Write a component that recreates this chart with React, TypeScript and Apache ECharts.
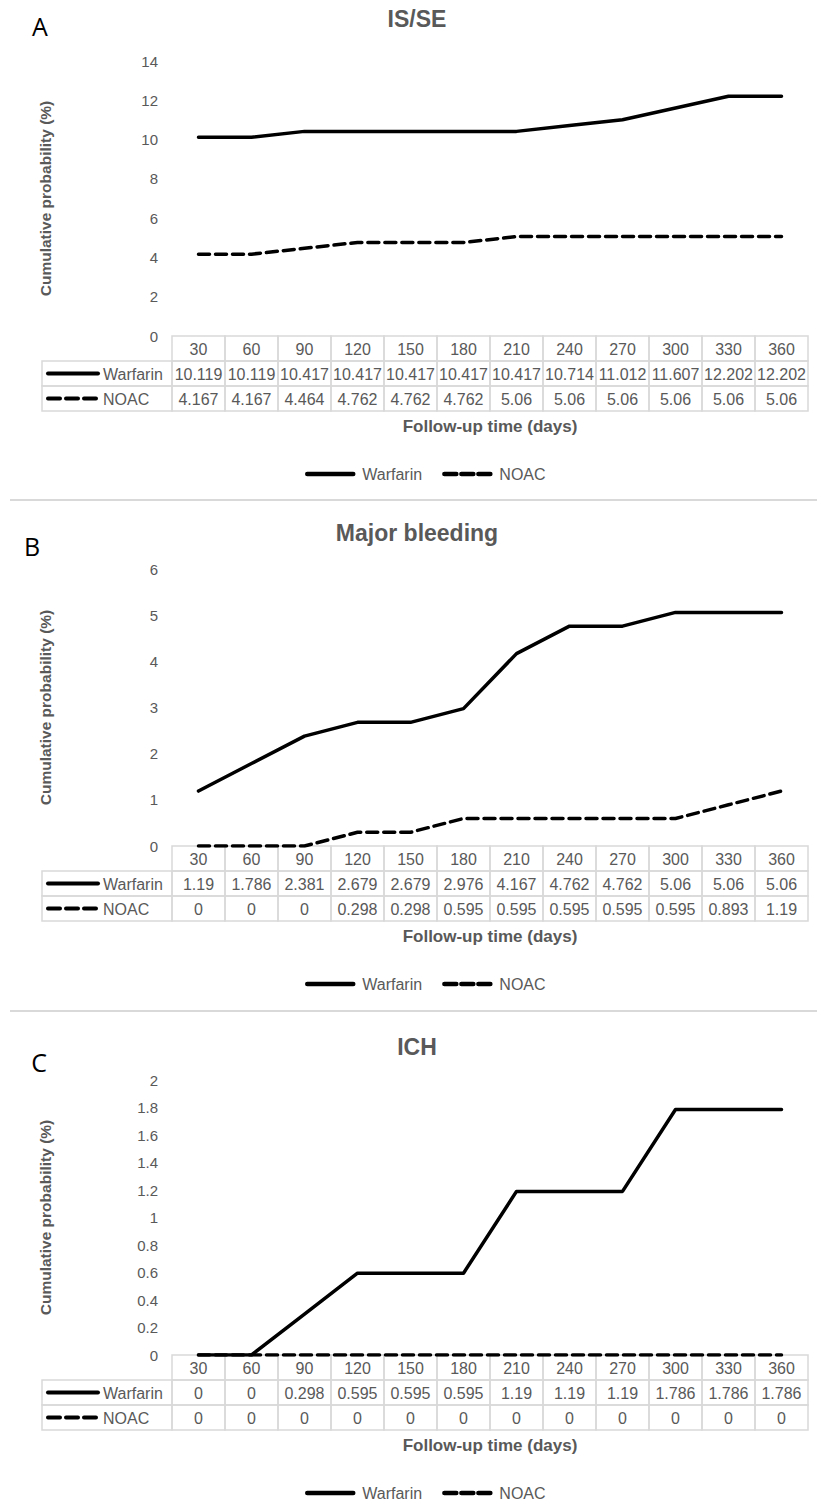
import React, { useEffect, useRef } from "react";
import * as echarts from "echarts";

// ---------- data ----------
const categories = ["30", "60", "90", "120", "150", "180", "210", "240", "270", "300", "330", "360"];
const isseWarfarin = [10.119, 10.119, 10.417, 10.417, 10.417, 10.417, 10.417, 10.714, 11.012, 11.607, 12.202, 12.202];
const isseNoac = [4.167, 4.167, 4.464, 4.762, 4.762, 4.762, 5.06, 5.06, 5.06, 5.06, 5.06, 5.06];
const bleedWarfarin = [1.19, 1.786, 2.381, 2.679, 2.679, 2.976, 4.167, 4.762, 4.762, 5.06, 5.06, 5.06];
const bleedNoac = [0, 0, 0, 0.298, 0.298, 0.595, 0.595, 0.595, 0.595, 0.595, 0.893, 1.19];
const ichWarfarin = [0, 0, 0.298, 0.595, 0.595, 0.595, 1.19, 1.19, 1.19, 1.786, 1.786, 1.786];
const ichNoac = [0, 0, 0, 0, 0, 0, 0, 0, 0, 0, 0, 0];
const panelTitles = ["IS/SE", "Major bleeding", "ICH"];
const panelLetters = ["A", "B", "C"];
const yMaxes = [14, 6, 2];
const yIntervals = [2, 1, 0.2];
const seriesNames = ["Warfarin", "NOAC"];
const yAxisTitle = "Cumulative probability (%)";
const xAxisTitle = "Follow-up time (days)";

const panelData = [
  [isseWarfarin, isseNoac],
  [bleedWarfarin, bleedNoac],
  [ichWarfarin, ichNoac],
];

// ---------- layout ----------
const W = 817;
const H = 1504;
const FONT = '"Liberation Sans", Arial, sans-serif';
const GRAY = "#595959";
const BORDER = "#d9d9d9";
const gridLeft = 172;
const gridRight = 9;
const gridTops = [61, 569, 1080];
const gridHeights = [275, 277, 275];
const rowH = 25;
const tableLeft = 42;
const lineW = 3.5;
const dash = [11, 6];
const titleY = [19, 533, 1047];
const letterPos = [
  [40, 26],
  [32, 546],
  [39, 1062],
];
const separatorsY = [500, 1011];

function makeRenderItem(panel: number) {
  return (params: any, api: any) => {
    const idx = api.value(0);
    const pt = api.coord([idx, 0]);
    const w = api.size([1, 0])[0];
    const x0 = pt[0] - w / 2;
    const y0 = pt[1];
    const texts = [categories[idx], String(api.value(2)), String(api.value(3))];
    const children: any[] = [];
    texts.forEach((t, r) => {
      children.push({
        type: "rect",
        shape: { x: x0, y: y0 + r * rowH, width: w, height: rowH },
        style: { fill: "none", stroke: BORDER, lineWidth: 1.5 },
      });
      children.push({
        type: "text",
        style: {
          text: t,
          x: pt[0],
          y: y0 + r * rowH + rowH / 2 + 1,
          align: "center",
          verticalAlign: "middle",
          fill: GRAY,
          fontSize: 16,
          fontFamily: FONT,
        },
      });
    });
    if (idx === 0) {
      seriesNames.forEach((name, k) => {
        const ry = y0 + (k + 1) * rowH;
        children.push({
          type: "rect",
          shape: { x: tableLeft, y: ry, width: x0 - tableLeft, height: rowH },
          style: { fill: "none", stroke: BORDER, lineWidth: 1.5 },
        });
        children.push({
          type: "line",
          shape: { x1: tableLeft + 6, y1: ry + rowH / 2, x2: tableLeft + 56, y2: ry + rowH / 2 },
          style: {
            stroke: "#000",
            lineWidth: 4,
            lineDash: k === 1 ? [12, 6] : null,
            lineCap: "round",
          },
        });
        children.push({
          type: "text",
          style: {
            text: name,
            x: tableLeft + 61,
            y: ry + rowH / 2 + 1,
            align: "left",
            verticalAlign: "middle",
            fill: GRAY,
            fontSize: 16,
            fontFamily: FONT,
          },
        });
      });
    }
    return { type: "group", children };
  };
}

export default function App() {
  const ref = useRef<HTMLDivElement>(null);
  useEffect(() => {
    document.body.style.margin = "0";
    if (!ref.current) return;
    const chart = echarts.init(ref.current, undefined, { renderer: "svg" });

    const grid = gridTops.map((t, i) => ({ left: gridLeft, right: gridRight, top: t, height: gridHeights[i] }));
    const xAxis = gridTops.map((_, i) => ({
      type: "category",
      gridIndex: i,
      data: categories,
      boundaryGap: true,
      axisLine: { show: false },
      axisTick: { show: false },
      axisLabel: { show: false },
      splitLine: { show: false },
      name: xAxisTitle,
      nameLocation: "middle",
      nameGap: 82,
      nameTextStyle: { fontSize: 17, fontWeight: "bold", color: GRAY, fontFamily: FONT },
    }));
    const yAxis = gridTops.map((_, i) => ({
      type: "value",
      gridIndex: i,
      min: 0,
      max: yMaxes[i],
      interval: yIntervals[i],
      axisLine: { show: false },
      axisTick: { show: false },
      splitLine: { show: false },
      axisLabel: { fontSize: 15, color: GRAY, margin: 14, fontFamily: FONT },
      name: yAxisTitle,
      nameLocation: "middle",
      nameGap: 119,
      nameTextStyle: { fontSize: 15.5, fontWeight: "bold", color: GRAY, fontFamily: FONT },
    }));

    const series: any[] = [];
    panelData.forEach((pair, i) => {
      pair.forEach((vals, k) => {
        series.push({
          type: "line",
          name: seriesNames[k],
          xAxisIndex: i,
          yAxisIndex: i,
          data: vals,
          symbol: "none",
          showSymbol: false,
          z: 5,
          lineStyle: { color: "#000", width: lineW, type: k === 1 ? dash : "solid", cap: "round", join: "round" },
          itemStyle: { color: "#000", opacity: 0 },
        });
      });
      series.push({
        type: "custom",
        name: "table" + i,
        xAxisIndex: i,
        yAxisIndex: i,
        z: 1,
        clip: false,
        encode: { x: 0, y: 1 },
        data: categories.map((_, j) => [j, 0, pair[0][j], pair[1][j]]),
        renderItem: makeRenderItem(i),
      });
    });

    const legend = gridTops.map((t, i) => ({
      data: [
        { name: seriesNames[0] },
        { name: seriesNames[1], lineStyle: { type: [12, 5] } },
      ],
      left: 300,
      top: t + gridHeights[i] + 138 - 13,
      itemWidth: 46,
      itemHeight: 14,
      itemGap: 20,
      itemStyle: { opacity: 0, borderWidth: 0 },
      lineStyle: { width: 4.5, color: "#000" },
      textStyle: { fontSize: 16, color: GRAY, fontFamily: FONT, padding: [0, 0, 0, 4] },
    }));

    const graphic: any[] = [];
    panelTitles.forEach((t, i) => {
      graphic.push({
        type: "text",
        x: 417,
        y: titleY[i],
        style: {
          text: t,
          align: "center",
          verticalAlign: "middle",
          fontSize: 23,
          fontWeight: "bold",
          fill: GRAY,
          fontFamily: FONT,
        },
      });
      graphic.push({
        type: "text",
        x: letterPos[i][0],
        y: letterPos[i][1],
        style: {
          text: panelLetters[i],
          align: "center",
          verticalAlign: "middle",
          fontSize: 25,
          fill: "#000",
          fontFamily: '"Open Sans", "Noto Sans", sans-serif',
        },
      });
    });
    separatorsY.forEach((y) => {
      graphic.push({
        type: "line",
        shape: { x1: 10, y1: y, x2: W, y2: y },
        style: { stroke: BORDER, lineWidth: 2 },
      });
    });

    chart.setOption({
      animation: false,
      backgroundColor: "#fff",
      grid,
      xAxis,
      yAxis,
      series,
      legend,
      graphic,
    });
    return () => chart.dispose();
  }, []);
  return <div ref={ref} style={{ width: W, height: H, position: "absolute", left: 0, top: 0 }} />;
}
